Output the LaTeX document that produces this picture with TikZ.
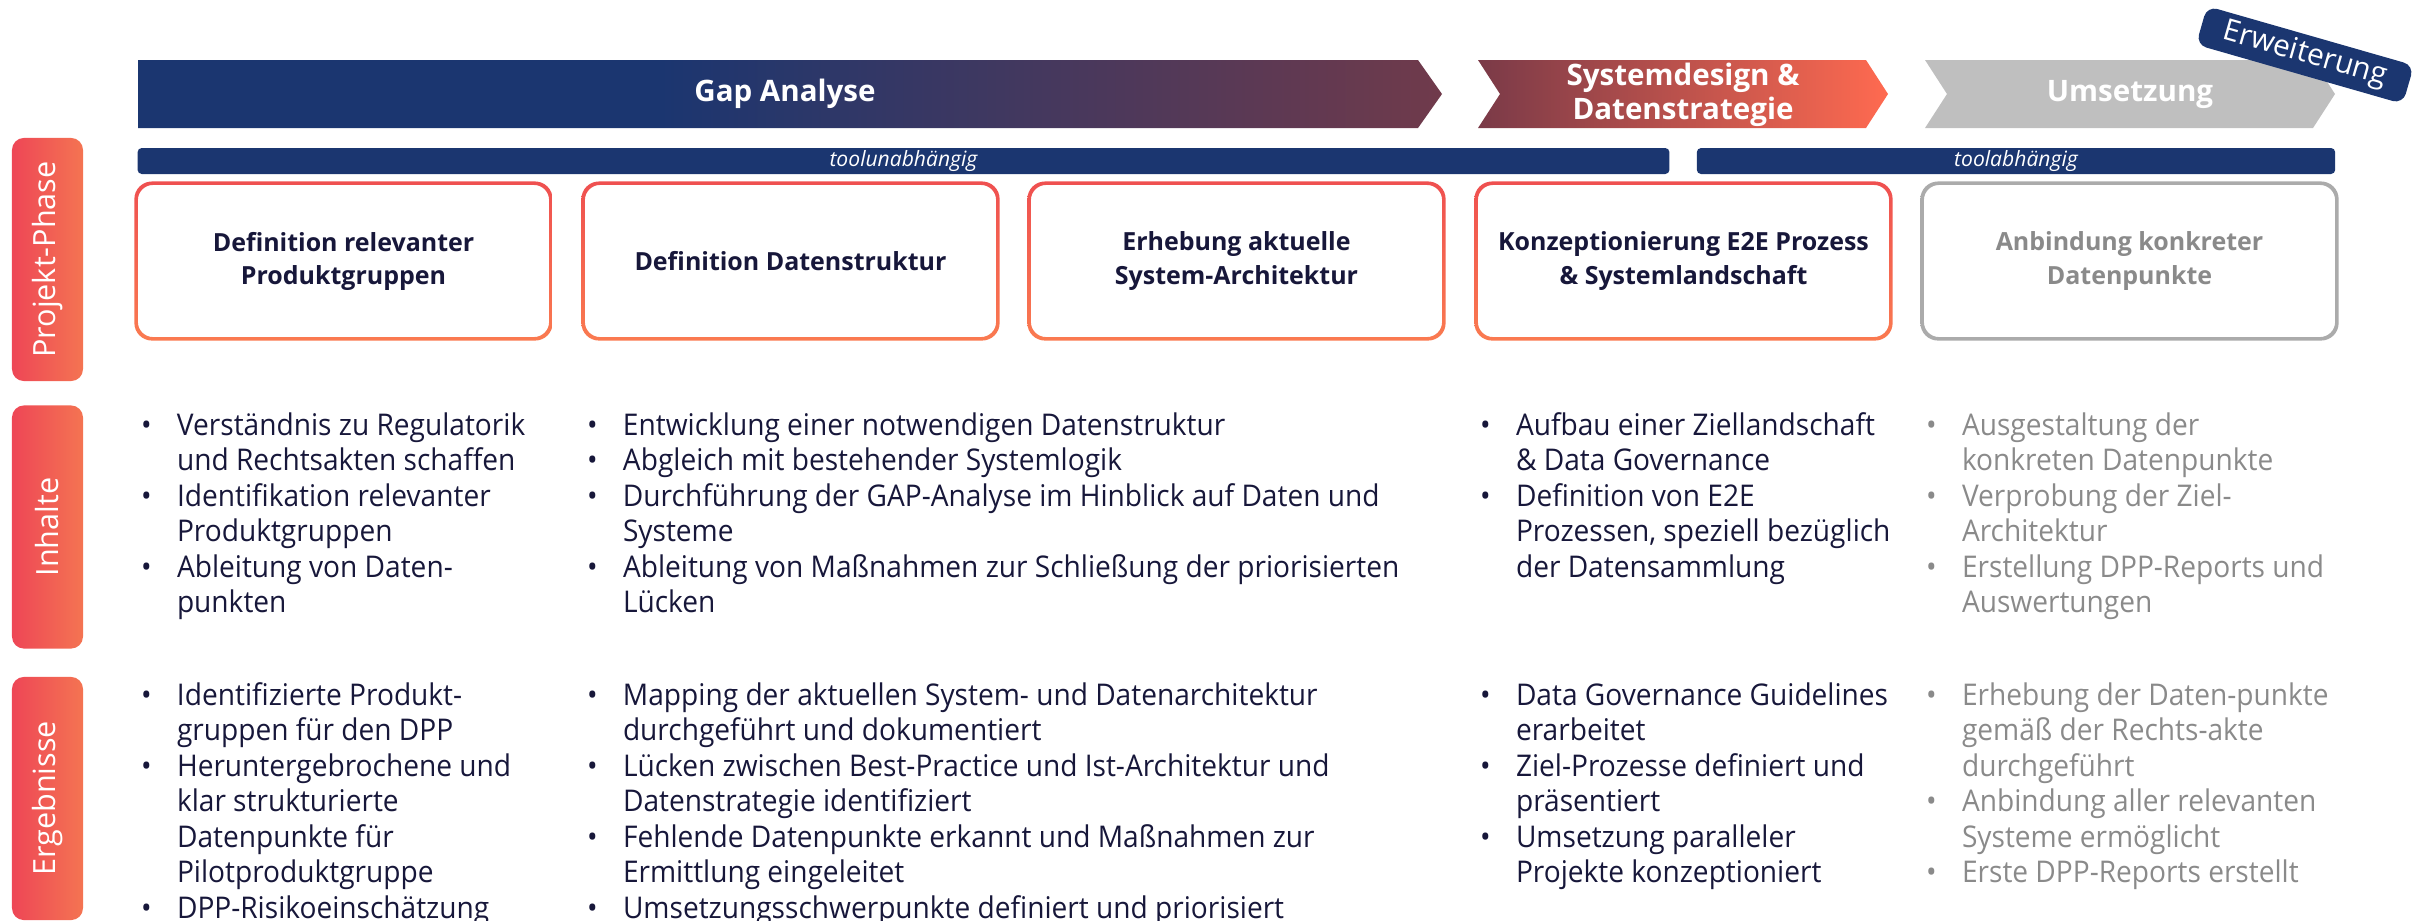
\documentclass[tikz,border=0pt]{standalone}
\usepackage{fontspec}
\setmainfont{Open Sans}
\newfontfamily\listfont[FakeStretch=0.94]{Open Sans}
\usetikzlibrary{shadows}
\definecolor{navy}{HTML}{1B3670}
\definecolor{plum}{HTML}{703A4B}
\definecolor{wine}{HTML}{7A3A48}
\definecolor{coral}{HTML}{FF6A50}
\definecolor{ashgrey}{HTML}{BFBFBF}
\definecolor{ink}{HTML}{17173A}
\definecolor{greytext}{HTML}{8A8A8A}
\definecolor{greyline}{HTML}{ABABAB}
\definecolor{boxtop}{HTML}{EF5050}
\definecolor{boxbot}{HTML}{FA7A50}
\definecolor{labtop}{HTML}{F47452}
\definecolor{labbot}{HTML}{EE4656}
\pgfdeclarehorizontalshading{gapfade}{100bp}{color(0bp)=(navy); color(25bp)=(navy); color(45bp)=(navy); color(75bp)=(plum); color(100bp)=(plum)}
\begin{document}
\begin{tikzpicture}[x=0.01cm, y=-0.01cm,
        every node/.style={inner sep=0pt, outer sep=0pt},
        headtext/.style={text=white, align=center, font=\bfseries\fontsize{8.4}{9.6}\selectfont},
        toolbar/.style={fill=navy, rounded corners=1.2pt, minimum height=0.26cm, text=white, font=\itshape\fontsize{6}{7}\selectfont},
        phasebox/.style={fill=white, rounded corners=4.3pt, minimum width=4.11cm, minimum height=1.52cm, align=center, text=ink, font=\bfseries\fontsize{7.1}{9.4}\selectfont, drop shadow={opacity=0.12, shadow xshift=0.8pt, shadow yshift=-0.8pt}},
        sidelabel/.style={rotate=90, rounded corners=3.4pt, minimum width=2.43cm, minimum height=0.71cm, left color=labbot, right color=labtop, text=white, font=\fontsize{8.7}{10}\selectfont},
        liste/.style={anchor=base west, text=ink, font=\listfont\fontsize{8.5}{10.1}\selectfont},
        tag/.style={rotate=-16, fill=navy, rounded corners=3pt, minimum width=2.15cm, minimum height=0.40cm, text=white, font=\fontsize{8.5}{10}\selectfont}]
    \useasboundingbox (0,0) rectangle (2417,920);
    \clip (0,0) rectangle (2417,920);

    \shade[shading=gapfade] (138,60) -- (1418,60) -- (1442,94) -- (1418,128) -- (138,128) -- cycle;
    \shade[left color=wine, right color=coral] (1478,60) -- (1866,60) -- (1888,94) -- (1866,128) -- (1478,128) -- (1500,94) -- cycle;
    \fill[ashgrey] (1925,60) -- (2313,60) -- (2335,94) -- (2313,128) -- (1925,128) -- (1947,94) -- cycle;
    \node[headtext] (gap) at (785,94) {Gap Analyse};
    \node[headtext] (sysd) at (1683,95) {Systemdesign \&\\Datenstrategie};
    \node[headtext] (ums) at (2130,94) {Umsetzung};

    \node[toolbar, minimum width=15.31cm] (tunab) at (903.5,161) {toolunabhängig};
    \node[toolbar, minimum width=6.38cm] (tab) at (2016,161) {toolabhängig};

    \node[phasebox] (b1) at (343.5,261) {Definition relevanter\\Produktgruppen};
    \node[phasebox] (b2) at (790.5,261) {Definition Datenstruktur};
    \node[phasebox] (b3) at (1236.5,261) {Erhebung aktuelle\\System-Architektur};
    \node[phasebox] (b4) at (1683.5,261) {Konzeptionierung E2E Prozess\\\& Systemlandschaft};
    \node[phasebox, text=greytext] (b5) at (2129.5,261) {Anbindung konkreter\\Datenpunkte};
    \foreach \b/\ct/\cb in {b1/boxtop/boxbot, b2/boxtop/boxbot, b3/boxtop/boxbot, b4/boxtop/boxbot, b5/greyline/greyline}
        \shade[top color=\ct, bottom color=\cb, even odd rule, rounded corners=5pt]
            ([shift={(-1pt,1pt)}]\b.north west) rectangle ([shift={(1pt,-1pt)}]\b.south east)
            [rounded corners=4.3pt] (\b.north west) rectangle (\b.south east);

    \node[sidelabel] (phase) at (47.5,259.5) {Projekt-Phase};
    \node[sidelabel] (inhalte) at (47.5,527) {Inhalte};
    \node[sidelabel] (ergebnisse) at (47.5,798.5) {Ergebnisse};

    \node[liste] (inh1) at (141,435) {\begin{tabular}[t]{@{}p{0.36cm}@{}l@{}}
        \textbullet & Verständnis zu Regulatorik\\
        & und Rechtsakten schaffen\\
        \textbullet & Identifikation relevanter\\
        & Produktgruppen\\
        \textbullet & Ableitung von Daten-\\
        & punkten
    \end{tabular}};
    \node[liste] (inh2) at (587,435) {\begin{tabular}[t]{@{}p{0.36cm}@{}l@{}}
        \textbullet & Entwicklung einer notwendigen Datenstruktur\\
        \textbullet & Abgleich mit bestehender Systemlogik\\
        \textbullet & Durchführung der GAP-Analyse im Hinblick auf Daten und\\
        & Systeme\\
        \textbullet & Ableitung von Maßnahmen zur Schließung der priorisierten\\
        & Lücken
    \end{tabular}};
    \node[liste] (inh4) at (1480,435) {\begin{tabular}[t]{@{}p{0.36cm}@{}l@{}}
        \textbullet & Aufbau einer Ziellandschaft\\
        & \& Data Governance\\
        \textbullet & Definition von E2E\\
        & Prozessen, speziell bezüglich\\
        & der Datensammlung
    \end{tabular}};
    \node[liste, text=greytext] (inh5) at (1926,435) {\begin{tabular}[t]{@{}p{0.36cm}@{}l@{}}
        \textbullet & Ausgestaltung der\\
        & konkreten Datenpunkte\\
        \textbullet & Verprobung der Ziel-\\
        & Architektur\\
        \textbullet & Erstellung DPP-Reports und\\
        & Auswertungen
    \end{tabular}};

    \node[liste] (erg1) at (141,705) {\begin{tabular}[t]{@{}p{0.36cm}@{}l@{}}
        \textbullet & Identifizierte Produkt-\\
        & gruppen für den DPP\\
        \textbullet & Heruntergebrochene und\\
        & klar strukturierte\\
        & Datenpunkte für\\
        & Pilotproduktgruppe\\
        \textbullet & DPP-Risikoeinschätzung
    \end{tabular}};
    \node[liste] (erg2) at (587,705) {\begin{tabular}[t]{@{}p{0.36cm}@{}l@{}}
        \textbullet & Mapping der aktuellen System- und Datenarchitektur\\
        & durchgeführt und dokumentiert\\
        \textbullet & Lücken zwischen Best-Practice und Ist-Architektur und\\
        & Datenstrategie identifiziert\\
        \textbullet & Fehlende Datenpunkte erkannt und Maßnahmen zur\\
        & Ermittlung eingeleitet\\
        \textbullet & Umsetzungsschwerpunkte definiert und priorisiert
    \end{tabular}};
    \node[liste] (erg4) at (1480,705) {\begin{tabular}[t]{@{}p{0.36cm}@{}l@{}}
        \textbullet & Data Governance Guidelines\\
        & erarbeitet\\
        \textbullet & Ziel-Prozesse definiert und\\
        & präsentiert\\
        \textbullet & Umsetzung paralleler\\
        & Projekte konzeptioniert
    \end{tabular}};
    \node[liste, text=greytext] (erg5) at (1926,705) {\begin{tabular}[t]{@{}p{0.36cm}@{}l@{}}
        \textbullet & Erhebung der Daten-punkte\\
        & gemäß der Rechts-akte\\
        & durchgeführt\\
        \textbullet & Anbindung aller relevanten\\
        & Systeme ermöglicht\\
        \textbullet & Erste DPP-Reports erstellt
    \end{tabular}};

    \node[tag] (erw) at (2305,55) {Erweiterung};
\end{tikzpicture}
\end{document}
